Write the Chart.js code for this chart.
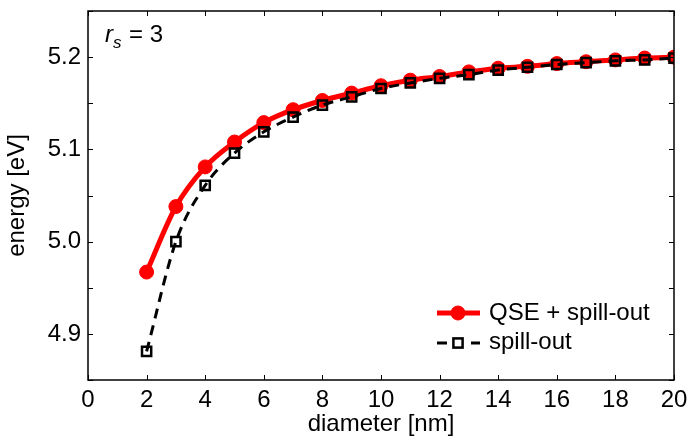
<!DOCTYPE html>
<html>
<head>
<meta charset="utf-8">
<script src="https://cdn.jsdelivr.net/npm/chart.js@4/dist/chart.umd.min.js"></script>
<style>
  html, body { margin: 0; padding: 0; background: #fff; }
  #wrap { width: 688px; height: 437px; }
</style>
</head>
<body>
<div id="wrap"><canvas id="energy-chart" width="688" height="437"></canvas></div>
<script>
// Work function vs. cluster diameter, r_s = 3
const diameters = [2, 3, 4, 5, 6, 7, 8, 9, 10, 11, 12, 13, 14, 15, 16, 17, 18, 19, 20];
const qseSpillOut = [4.967, 5.038, 5.081, 5.108, 5.129, 5.143, 5.153, 5.161, 5.169, 5.175,
                     5.179, 5.184, 5.188, 5.190, 5.193, 5.195, 5.197, 5.199, 5.200];
const spillOut = [4.881, 5.000, 5.061, 5.096, 5.119, 5.135, 5.148, 5.157, 5.166, 5.172,
                  5.177, 5.181, 5.186, 5.189, 5.192, 5.194, 5.196, 5.197, 5.199];
const seriesNames = ['QSE + spill-out', 'spill-out'];
const xTicks = [0, 2, 4, 6, 8, 10, 12, 14, 16, 18, 20];
const yTicks = [4.9, 5.0, 5.1, 5.2];

const FONT = 'Liberation Sans, Arial, Helvetica, sans-serif';

function toPoints(xs, ys) {
    return xs.map((x, i) => ({ x: x, y: ys[i] }));
}

// no extra room for edge labels, the layout padding handles it
function noEdgePadding(s) {
    s.paddingTop = 0;
    s.paddingBottom = 0;
    s.paddingLeft = 0;
    s.paddingRight = 0;
}

// frame box with inward ticks on all four sides
const framePlugin = {
    id: 'frame',
    afterDraw(chart) {
        const ctx = chart.ctx;
        const a = chart.chartArea;
        const xs = chart.scales.x, ys = chart.scales.y;
        const len = 5;
        ctx.save();
        ctx.strokeStyle = '#000';
        ctx.lineWidth = 1.5;
        ctx.strokeRect(a.left, a.top, a.right - a.left, a.bottom - a.top);
        ctx.lineWidth = 1;
        ctx.beginPath();
        xs.ticks.forEach(t => {
            const px = Math.round(xs.getPixelForValue(t.value)) + 0.5;
            ctx.moveTo(px, a.bottom); ctx.lineTo(px, a.bottom - len);
            ctx.moveTo(px, a.top); ctx.lineTo(px, a.top + len);
        });
        ys.ticks.forEach(t => {
            const py = Math.round(ys.getPixelForValue(t.value)) + 0.5;
            ctx.moveTo(a.left, py); ctx.lineTo(a.left + len, py);
            ctx.moveTo(a.right, py); ctx.lineTo(a.right - len, py);
        });
        ctx.stroke();
        ctx.restore();
    }
};

// r_s label and legend inside the plot
const notesPlugin = {
    id: 'notes',
    afterDraw(chart) {
        const ctx = chart.ctx;
        ctx.save();
        ctx.fillStyle = '#000';
        ctx.textBaseline = 'alphabetic';
        ctx.textAlign = 'left';
        ctx.font = 'italic 24px ' + FONT;
        ctx.fillText('r', 105, 42);
        ctx.font = 'italic 17px ' + FONT;
        ctx.fillText('s', 113, 48);
        ctx.font = '24px ' + FONT;
        ctx.fillText('= 3', 129, 42);

        const ds = chart.data.datasets;
        const rows = [
            { d: ds[0], y: 313, base: 320 },
            { d: ds[1], y: 343, base: 349 }
        ];
        rows.forEach(r => {
            ctx.save();
            ctx.strokeStyle = r.d.borderColor;
            ctx.lineWidth = r.d.borderWidth;
            ctx.setLineDash(r.d.borderDash || []);
            ctx.beginPath();
            ctx.moveTo(437, r.y);
            ctx.lineTo(480, r.y);
            ctx.stroke();
            ctx.setLineDash([]);
            ctx.lineWidth = r.d.pointBorderWidth;
            ctx.strokeStyle = r.d.pointBorderColor;
            if (r.d.pointStyle === 'rect') {
                ctx.fillStyle = '#fff';
                ctx.fillRect(450, r.y - 7, 16, 14);
                const s = r.d.pointRadius * Math.SQRT1_2;
                ctx.strokeRect(458 - s, r.y - s, 2 * s, 2 * s);
            } else {
                ctx.fillStyle = r.d.pointBackgroundColor;
                ctx.beginPath();
                ctx.arc(458, r.y, r.d.pointRadius, 0, Math.PI * 2);
                ctx.fill();
                ctx.stroke();
            }
            ctx.restore();
            ctx.font = '24px ' + FONT;
            ctx.fillStyle = '#000';
            ctx.fillText(r.d.label, 489, r.base);
        });
        ctx.restore();
    }
};

const ctx = document.getElementById('energy-chart').getContext('2d');
const chart = new Chart(ctx, {
    type: 'line',
    data: {
        datasets: [{
            label: seriesNames[0],
            data: toPoints(diameters, qseSpillOut),
            borderColor: '#ff0000',
            backgroundColor: '#ff0000',
            borderWidth: 5,
            pointRadius: 7,
            pointBackgroundColor: '#ff0000',
            pointBorderColor: '#ff0000',
            pointBorderWidth: 1,
            pointStyle: 'circle',
            cubicInterpolationMode: 'monotone',
            order: 2
        }, {
            label: seriesNames[1],
            data: toPoints(diameters, spillOut),
            borderColor: '#000',
            backgroundColor: '#fff',
            borderWidth: 3,
            borderDash: [10, 7],
            pointRadius: 6.5,
            pointBackgroundColor: 'rgba(255,255,255,0)',
            pointBorderColor: '#000',
            pointBorderWidth: 2.5,
            pointStyle: 'rect',
            cubicInterpolationMode: 'monotone',
            order: 1
        }]
    },
    options: {
        responsive: false,
        animation: false,
        events: [],
        layout: { padding: { top: 11, right: 14, left: 0, bottom: 0 } },
        plugins: {
            legend: { display: false },
            tooltip: { enabled: false }
        },
        scales: {
            x: {
                type: 'linear',
                min: 0,
                max: 20,
                afterFit: s => { s.height = 57; noEdgePadding(s); },
                afterBuildTicks: s => { s.ticks = xTicks.map(v => ({ value: v })); },
                grid: { display: false, drawTicks: false },
                border: { display: false },
                ticks: {
                    padding: 6,
                    color: '#000',
                    font: { family: FONT, size: 24 },
                    maxRotation: 0,
                    callback: v => String(v)
                },
                title: {
                    display: true,
                    text: 'diameter [nm]',
                    color: '#000',
                    font: { family: FONT, size: 24 },
                    padding: { top: 0, bottom: -2 }
                }
            },
            y: {
                type: 'linear',
                min: 4.85,
                max: 5.25,
                afterFit: s => { s.width = 88; noEdgePadding(s); },
                afterBuildTicks: s => {
                    const t = [];
                    for (let i = 0; i <= 8; i++) t.push({ value: +(4.85 + i * 0.05).toFixed(2) });
                    s.ticks = t;
                },
                grid: { display: false, drawTicks: false },
                border: { display: false },
                ticks: {
                    padding: 7,
                    color: '#000',
                    font: { family: FONT, size: 24 },
                    callback: v => yTicks.some(t => Math.abs(t - v) < 1e-6) ? v.toFixed(1) : ''
                },
                title: {
                    display: true,
                    text: 'energy [eV]',
                    color: '#000',
                    font: { family: FONT, size: 24 },
                    padding: { top: 3, bottom: 0 }
                }
            }
        }
    },
    plugins: [framePlugin, notesPlugin]
});
</script>
</body>
</html>
